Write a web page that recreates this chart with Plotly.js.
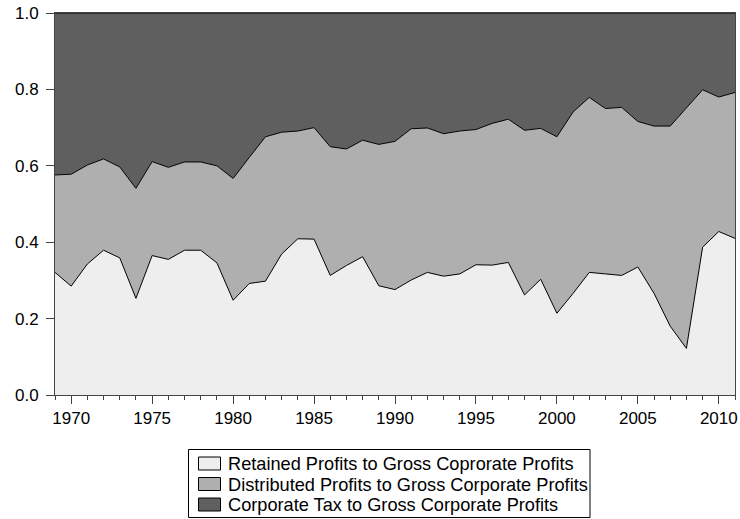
<!DOCTYPE html>
<html>
<head>
<meta charset="utf-8">
<script src="https://cdn.plot.ly/plotly-3.0.1.min.js"></script>
<style>html,body{margin:0;padding:0;background:#fff;}#chart{width:740px;height:519px;}</style>
</head>
<body>
<div id="chart"></div>
<script>
const years = [];
for (let y = 1969; y <= 2011; y++) years.push(y);

const retained = [0.321,0.285,0.343,0.379,0.359,0.253,0.365,0.355,0.379,0.379,
  0.346,0.248,0.292,0.298,0.369,0.409,0.408,0.313,0.339,0.362,
  0.286,0.276,0.301,0.321,0.311,0.317,0.341,0.340,0.347,0.262,
  0.303,0.214,0.266,0.321,0.317,0.313,0.335,0.266,0.180,0.122,
  0.387,0.428,0.410];
const distributed = [0.255,0.293,0.259,0.239,0.238,0.288,0.246,0.241,0.231,0.231,
  0.254,0.319,0.330,0.378,0.319,0.282,0.292,0.337,0.305,0.305,
  0.370,0.388,0.396,0.378,0.373,0.374,0.354,0.371,0.375,0.431,
  0.395,0.462,0.475,0.458,0.433,0.440,0.381,0.438,0.524,0.629,
  0.412,0.352,0.382];
const tax = [0.424,0.422,0.398,0.382,0.403,0.459,0.389,0.404,0.390,0.390,
  0.400,0.433,0.378,0.324,0.312,0.309,0.300,0.350,0.356,0.333,
  0.344,0.336,0.303,0.301,0.316,0.309,0.305,0.289,0.278,0.307,
  0.302,0.324,0.259,0.221,0.250,0.247,0.284,0.296,0.296,0.249,
  0.201,0.220,0.208];

const names = ["Retained Profits to Gross Coprorate Profits",
  "Distributed Profits to Gross Corporate Profits",
  "Corporate Tax to Gross Corporate Profits"];
const xTickVals = [1970, 1975, 1980, 1985, 1990, 1995, 2000, 2005, 2010];
const yTickVals = [0, 0.2, 0.4, 0.6, 0.8, 1.0];
const colors = ["#eeeeee", "#afafaf", "#5f5f5f"];
const series = [retained, distributed, tax];

const traces = series.map((vals, i) => ({
  x: years, y: vals, type: "scatter", mode: "lines",
  name: names[i],
  stackgroup: "one", fillcolor: colors[i],
  line: {color: "#000000", width: 1, shape: "linear"},
  showlegend: false, hoverinfo: "skip"
}));

// plot area geometry in pixels (for the hand-built legend box)
const W = 740, H = 519, mL = 55, mR = 5, mT = 13, mB = 124;
const pw = W - mL - mR, ph = H - mT - mB;
const px = X => (X - mL) / pw;
const py = Y => (H - mB - Y) / ph;

const shapes = [{
  type: "rect", xref: "paper", yref: "paper",
  x0: px(188.5), x1: px(590), y0: py(517.5), y1: py(449.5),
  line: {color: "#000000", width: 1}, fillcolor: "#ffffff", layer: "above"
}];
const annotations = [];
const rowY = [463.5, 484, 504.5];
names.forEach((nm, i) => {
  shapes.push({
    type: "rect", xref: "paper", yref: "paper",
    x0: px(198.5), x1: px(220.5), y0: py(rowY[i] + 6.5), y1: py(rowY[i] - 6.5),
    line: {color: "#000000", width: 1}, fillcolor: colors[i], layer: "above"
  });
  annotations.push({
    xref: "paper", yref: "paper", x: px(226), y: py(rowY[i] + 0.5),
    xanchor: "left", yanchor: "middle", showarrow: false, text: nm,
    font: {family: "Liberation Sans, Arial, sans-serif", size: 18.2, color: "#000000"}
  });
});

const layout = {
  width: W, height: H,
  margin: {l: mL, r: mR, t: mT, b: mB},
  paper_bgcolor: "#ffffff", plot_bgcolor: "#ffffff",
  font: {family: "Liberation Sans, Arial, sans-serif", size: 17, color: "#000000"},
  showlegend: false,
  shapes: shapes, annotations: annotations,
  xaxis: {
    range: [1969, 2011], tickmode: "array", tickvals: xTickVals,
    ticks: "outside", ticklen: 8, tickcolor: "#444444", tickwidth: 1,
    minor: {dtick: 1, tick0: 1969, ticks: "outside", ticklen: 4, tickcolor: "#444444", showgrid: false},
    showline: true, linecolor: "#444444", linewidth: 1, mirror: true,
    showgrid: false, zeroline: false, fixedrange: true
  },
  yaxis: {
    range: [0, 1], tickmode: "array", tickvals: yTickVals,
    tickformat: ".1f",
    ticks: "outside", ticklen: 8, tickcolor: "#444444", tickwidth: 1,
    ticklabelstandoff: 4,
    showline: true, linecolor: "#444444", linewidth: 1, mirror: true,
    showgrid: false, zeroline: false, fixedrange: true
  }
};

Plotly.newPlot("chart", traces, layout, {displayModeBar: false, staticPlot: true});
</script>
</body>
</html>
